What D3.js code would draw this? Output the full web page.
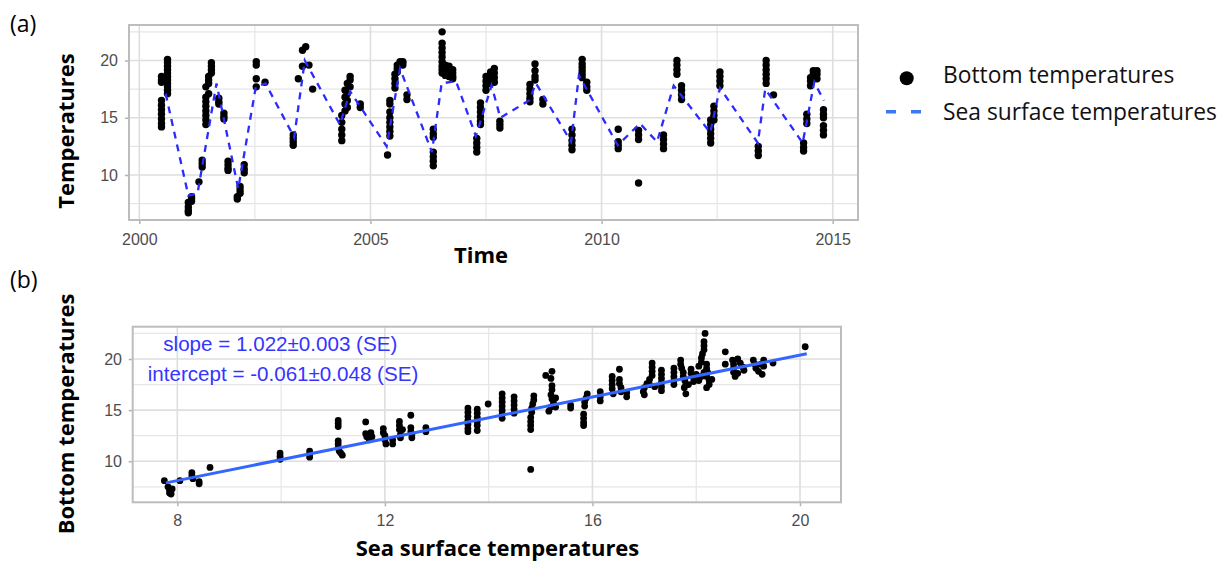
<!DOCTYPE html>
<html><head><meta charset="utf-8">
<script src="https://cdn.jsdelivr.net/npm/d3@7"></script>
<style>
body{margin:0;background:#fff;}
svg{display:block;}
</style></head>
<body>
<svg id="chart" width="1229" height="568"></svg>
<script>
// ---------- DATA ----------
// Panel (a): sea surface temperature line (decimal year, °C)
const sstYear = [2000.57,2001.06,2001.26,2001.67,2002.14,2002.52,2002.73,2003.35,2003.58,2004.34,2004.56,2005.35,2005.64,2006.33,2006.54,2006.85,2007.28,2007.62,2007.81,2008.43,2008.58,2009.34,2009.51,2010.35,2010.83,2011.20,2011.56,2012.35,2012.56,2013.38,2013.54,2014.35,2014.60,2014.81];
const sstTemp = [17.1,8.2,8.4,18.0,8.8,17.7,18.0,13.3,20.0,14.4,17.3,12.5,19.3,12.0,18.0,18.2,13.4,17.8,15.0,16.5,18.0,12.9,18.7,12.6,14.5,12.9,17.8,13.7,17.6,12.8,17.5,12.8,18.1,16.5];

// Panel (a): bottom temperature sampling times and the values measured at each time
const bottomTime = [2000.48,2000.57,2000.61,2001.06,2001.13,2001.29,2001.36,2001.44,2001.50,2001.56,2001.72,2001.83,2001.92,2002.12,2002.18,2002.27,2002.53,2002.72,2003.33,2003.44,2003.53,2003.60,2003.67,2003.75,2004.38,2004.45,2004.50,2004.56,2004.78,2005.37,2005.42,2005.53,2005.58,2005.64,2005.70,2005.79,2006.36,2006.55,2006.62,2006.70,2006.78,2007.30,2007.38,2007.50,2007.60,2007.68,2007.80,2008.45,2008.56,2008.73,2009.36,2009.58,2009.68,2010.36,2010.80,2011.34,2011.63,2011.73,2012.36,2012.43,2012.56,2013.39,2013.56,2013.72,2014.37,2014.44,2014.52,2014.58,2014.66,2014.80];
const bottomValues = [
 [18.6,18.3,18.1,16.5,16.1,15.7,15.3,14.9,14.5,14.2],
 [18.5,18.2],
 [20.1,19.8,19.5,19.2,18.9,18.6,18.3,18.0,17.7,17.4,17.1],
 [7.6,7.2,6.9,6.7],
 [8.1,7.9,7.7],
 [9.4],
 [11.3,11.0,10.7],
 [17.7,16.8,16.4,16.0,15.6,15.2,14.8,14.4],
 [18.6,18.3,18.0,17.1],
 [19.8,19.5,19.2,18.9],
 [16.7,16.4,16.2],
 [15.4,15.1,14.9],
 [11.2,10.9,10.6,10.4],
 [8.1,7.9],
 [9.0,8.7,8.4],
 [10.9,10.5,10.2],
 [19.9,19.6,18.4,17.7],
 [18.1],
 [13.5,13.2,12.9,12.6],
 [18.4],
 [19.5,20.9],
 [21.2],
 [19.6],
 [17.5],
 [15.2,14.6,14.0,13.5,13.0],
 [17.4,16.8,16.2,15.6],
 [18.0,17.1,16.5,15.9],
 [18.6,18.3,17.7],
 [16.2,15.9],
 [11.75],
 [16.5,16.2,15.5,15.0,14.6,14.2,13.8,13.4],
 [18.8,18.4,18.0,17.6],
 [19.6,19.3,19.0],
 [19.9,19.7],
 [19.8,19.6,19.9],
 [17.0,16.6],
 [14.0,13.6,13.3,12.0,11.6,11.2,10.8],
 [22.5,21.5,21.1,20.7,20.3,19.9,19.5,19.2,18.9],
 [19.6,19.3,19.0,18.7],
 [19.5,19.2,18.9,18.6],
 [19.2,18.9,18.6,18.4],
 [13.2,12.8,12.4,12.0],
 [16.3,15.9,15.5,15.1,14.7,14.4],
 [18.6,18.2,17.8,17.4],
 [19.0,18.8,18.6,18.4,18.2,18.0],
 [19.3,18.9,18.5,18.1],
 [14.7,14.4,14.1],
 [17.9,17.5,17.1,16.7,16.4],
 [19.7,19.1,18.6,18.3],
 [16.6,16.2],
 [14.0,13.5,13.0,12.6,12.2],
 [20.1,19.7,19.4,19.1,18.8,18.5],
 [18.1,17.7,17.4],
 [14.0,12.9,12.6,12.3],
 [13.9,13.5,13.1,9.3],
 [13.5,13.1,12.7,12.3],
 [20.0,19.6,19.2,18.8],
 [17.8,17.4,17.0,16.6],
 [14.8,14.4,14.0,13.6,13.2,12.8],
 [16.0,15.6,15.2,14.8],
 [19.0,18.6,18.2,17.8],
 [12.5,12.1,11.7],
 [20.0,19.6,19.2,18.8,18.4,18.0],
 [17.0],
 [12.8,12.4,12.1],
 [15.3,14.9,14.5],
 [18.5,18.2,17.8],
 [19.1,18.8,18.5],
 [19.1,18.8,18.4],
 [15.7,15.3,15.0,14.3,13.9,13.5]
];

// Panel (b): sea surface temperature vs bottom temperature
const scatterSST = [7.75,7.82,7.85,7.85,7.9,7.88,8.05,8.28,8.28,8.3,8.42,8.42,8.63,
 9.98,9.98,9.98,10.55,10.55,10.55,
 11.1,11.1,11.1,11.1,11.1,11.1,11.12,11.15,11.18,
 11.63,11.63,11.65,11.7,11.73,11.75,
 11.97,11.97,12.0,12.0,12.02,12.15,12.15,
 12.28,12.28,12.28,12.3,12.3,12.34,
 12.5,12.5,12.5,12.52,12.52,12.79,12.79,
 13.6,13.6,13.6,13.6,13.6,13.6,13.6,
 13.78,13.78,13.78,13.78,13.78,13.78,13.99,
 14.26,14.26,14.26,14.26,14.26,14.26,14.26,
 14.49,14.49,14.49,14.49,14.49,
 14.87,14.87,14.85,14.83,14.83,14.81,14.81,14.81,14.81,14.81,
 15.1,15.22,15.2,15.22,15.22,15.2,15.22,15.25,15.2,15.16,15.29,15.29,
 15.58,15.58,
 15.9,15.88,15.85,15.85,15.83,15.83,15.83,15.83,
 16.15,16.15,16.15,
 16.38,16.38,16.38,16.38,16.4,
 16.52,16.52,16.52,16.55,16.55,16.66,16.66,
 17.15,17.15,17.15,17.15,17.1,17.05,17.0,16.98,17.0,17.1,17.2,
 17.33,17.33,17.33,17.33,17.33,17.33,
 17.57,17.57,17.57,17.57,17.57,
 17.7,17.7,17.72,17.75,17.75,17.78,17.8,17.77,17.8,
 17.9,17.9,17.95,17.95,17.85,
 18.17,18.15,18.15,18.15,18.12,18.1,18.1,18.05,18.2,18.2,18.22,18.15,18.1,18.2,18.25,18.25,18.05,18.0,18.2,18.3,
 18.56,18.56,
 18.7,18.72,18.72,18.72,18.75,18.8,18.85,18.9,18.92,18.8,
 19.1,19.13,19.15,19.2,19.25,19.3,19.3,19.27,
 19.48,20.1];
const scatterBottom = [8.1,7.5,7.2,6.9,7.3,6.8,8.1,8.9,8.6,8.3,8.0,7.8,9.4,
 10.8,10.5,10.2,11.0,10.7,10.4,
 14.0,13.7,13.4,12.0,11.7,11.3,11.0,10.8,10.6,
 13.85,12.7,12.4,12.1,12.8,12.4,
 13.2,12.8,12.5,12.1,11.7,12.1,11.7,
 13.9,13.5,13.1,12.6,12.3,13.1,
 14.5,13.3,12.9,12.6,12.3,13.3,12.9,
 15.2,14.8,14.4,14.0,13.6,13.2,12.9,
 15.1,14.7,14.3,13.9,13.5,13.0,15.6,
 16.6,16.2,15.8,15.4,15.0,14.6,14.2,
 16.3,15.9,15.5,15.1,14.7,
 16.4,16.0,15.6,15.2,14.8,14.3,13.9,13.5,13.1,9.2,
 18.4,18.8,18.1,17.4,17.0,16.5,16.1,15.7,15.3,14.9,15.3,16.2,
 15.5,15.2,
 16.6,16.2,15.8,15.4,14.6,14.2,13.8,13.5,
 16.8,16.3,15.9,
 18.3,17.9,17.5,17.1,16.6,
 19.0,18.0,17.6,17.2,16.8,16.7,16.3,
 19.6,19.2,18.8,18.4,18.0,17.6,17.2,16.8,16.5,17.5,17.3,
 18.9,18.5,18.1,17.7,17.3,16.9,
 19.1,18.7,18.3,17.9,17.5,
 19.9,19.5,19.1,18.7,18.3,17.9,17.5,17.2,16.6,
 19.0,18.6,18.2,17.8,17.5,
 22.5,21.7,21.3,20.9,20.5,20.1,19.7,19.3,19.5,19.1,18.7,18.7,18.3,18.3,17.9,17.5,17.9,18.5,17.2,18.0,
 20.7,19.5,
 19.9,19.5,19.1,18.7,18.3,20.0,19.6,19.2,18.9,18.6,
 19.9,19.5,19.1,18.8,19.5,19.9,19.3,18.5,
 19.6,21.2];

// Regression (from the annotation)
const regSlope = 1.022, regIntercept = -0.061;
const regRange = [7.78, 20.13];

// Tick labels
const aXTicks = [2000, 2005, 2010, 2015];
const aXMinor = [2002.5, 2007.5, 2012.5];
const aYTicks = [10, 15, 20];
const aYMinor = [7.5, 12.5, 17.5, 22.5];
const bXTicks = [8, 12, 16, 20];
const bXMinor = [10, 14, 18];
const bYTicks = [10, 15, 20];
const bYMinor = [7.5, 12.5, 17.5, 22.5];

// ---------- DRAW ----------
const svg = d3.select("#chart");
const tickFont = "'Liberation Sans', Arial, sans-serif";
const titleFont = "'Open Sans', sans-serif";

function panel(opt) {
  const x = d3.scaleLinear().domain(opt.xDomain).range([opt.left, opt.right]);
  const y = d3.scaleLinear().domain(opt.yDomain).range([opt.bottom, opt.top]);
  const g = svg.append("g");
  g.selectAll(".vmin").data(opt.xMinor).join("line")
    .attr("x1", d => x(d)).attr("x2", d => x(d)).attr("y1", opt.top).attr("y2", opt.bottom)
    .attr("stroke", "#e6e6e6").attr("stroke-width", 1.2);
  g.selectAll(".hmin").data(opt.yMinor).join("line")
    .attr("y1", d => y(d)).attr("y2", d => y(d)).attr("x1", opt.left).attr("x2", opt.right)
    .attr("stroke", "#e6e6e6").attr("stroke-width", 1.2);
  g.selectAll(".vmaj").data(opt.xTicks).join("line")
    .attr("x1", d => x(d)).attr("x2", d => x(d)).attr("y1", opt.top).attr("y2", opt.bottom)
    .attr("stroke", "#dedede").attr("stroke-width", 1.6);
  g.selectAll(".hmaj").data(opt.yTicks).join("line")
    .attr("y1", d => y(d)).attr("y2", d => y(d)).attr("x1", opt.left).attr("x2", opt.right)
    .attr("stroke", "#dedede").attr("stroke-width", 1.6);
  const xa = svg.append("g").attr("transform", `translate(0,${opt.bottom})`)
    .call(d3.axisBottom(x).tickValues(opt.xTicks).tickSize(4).tickPadding(opt.xPad).tickFormat(d3.format("d")));
  const ya = svg.append("g").attr("transform", `translate(${opt.left},0)`)
    .call(d3.axisLeft(y).tickValues(opt.yTicks).tickSize(4).tickPadding(opt.yPad).tickFormat(d3.format("d")));
  [xa, ya].forEach(a => {
    a.select(".domain").remove();
    a.selectAll("line").attr("stroke", "#b3b3b3").attr("stroke-width", 1.5);
    a.selectAll("text").attr("fill", "#4d4d4d").style("font-family", tickFont).style("font-size", "16px");
  });
  return {x, y, g};
}

function border(opt) {
  svg.append("rect").attr("x", opt.left).attr("y", opt.top)
    .attr("width", opt.right - opt.left).attr("height", opt.bottom - opt.top)
    .attr("fill", "none").attr("stroke", "#bdbdbd").attr("stroke-width", 2);
}

// Panel (a)
const optA = {left: 129, right: 858, top: 25, bottom: 220,
  xDomain: [1999.777, 2015.547], yDomain: [6.07, 23.1],
  xTicks: aXTicks, xMinor: aXMinor, yTicks: aYTicks, yMinor: aYMinor, xPad: 9.5, yPad: 7};
const A = panel(optA);
const ptsA = [];
bottomTime.forEach((t, i) => bottomValues[i].forEach(v => ptsA.push([t, v])));
A.g.selectAll(".pa").data(ptsA).join("circle")
  .attr("cx", d => A.x(d[0])).attr("cy", d => A.y(d[1])).attr("r", 3.7).attr("fill", "#000");
A.g.append("path").datum(sstYear.map((t, i) => [t, sstTemp[i]]))
  .attr("d", d3.line().x(d => A.x(d[0])).y(d => A.y(d[1])))
  .attr("fill", "none").attr("stroke", "#2b2bff").attr("stroke-width", 2.3)
  .attr("stroke-dasharray", "7,6");
border(optA);

// Panel (b)
const optB = {left: 132.7, right: 841, top: 326.7, bottom: 502.3,
  xDomain: [7.14, 20.79], yDomain: [5.99, 23.16],
  xTicks: bXTicks, xMinor: bXMinor, yTicks: bYTicks, yMinor: bYMinor, xPad: 8.7, yPad: 6.7};
const B = panel(optB);
B.g.selectAll(".pb").data(scatterSST.map((s, i) => [s, scatterBottom[i]])).join("circle")
  .attr("cx", d => B.x(d[0])).attr("cy", d => B.y(d[1])).attr("r", 3.4).attr("fill", "#000");
B.g.append("line")
  .attr("x1", B.x(regRange[0])).attr("y1", B.y(regSlope * regRange[0] + regIntercept))
  .attr("x2", B.x(regRange[1])).attr("y2", B.y(regSlope * regRange[1] + regIntercept))
  .attr("stroke", "#3366ff").attr("stroke-width", 3);
border(optB);

// annotation
svg.append("text").attr("x", 163.3).attr("y", 351).text("slope = 1.022\u00b10.003 (SE)")
  .attr("fill", "#3535ff").style("font-family", tickFont).style("font-size", "20.6px");
svg.append("text").attr("x", 147.7).attr("y", 381).text("intercept = -0.061\u00b10.048 (SE)")
  .attr("fill", "#3535ff").style("font-family", tickFont).style("font-size", "20.6px");

// axis titles
function title(txt, x, y, rot) {
  svg.append("text").attr("transform", `translate(${x},${y}) rotate(${rot})`)
    .attr("text-anchor", "middle").text(txt)
    .style("font-family", titleFont).style("font-weight", "bold").style("font-size", "22px").attr("fill", "#000");
}
title("Time", 481, 263, 0);
title("Temperatures", 74, 131, -90);
title("Sea surface temperatures", 497.5, 556, 0);
title("Bottom temperatures", 74, 414, -90);

// panel letters
svg.append("text").attr("x", 10).attr("y", 32).text("(a)")
  .style("font-family", titleFont).style("font-size", "23px").attr("fill", "#000");
svg.append("text").attr("x", 10).attr("y", 288).text("(b)")
  .style("font-family", titleFont).style("font-size", "23px").attr("fill", "#000");

// legend
const lg = svg.append("g");
lg.append("circle").attr("cx", 906.7).attr("cy", 78.3).attr("r", 7).attr("fill", "#000");
lg.append("line").attr("x1", 886).attr("x2", 929).attr("y1", 111.7).attr("y2", 111.7)
  .attr("stroke", "#3c78f0").attr("stroke-width", 3.5).attr("stroke-dasharray", "10,15");
lg.append("text").attr("x", 943).attr("y", 82.5).text("Bottom temperatures")
  .style("font-family", titleFont).style("font-size", "22.8px").attr("fill", "#111");
lg.append("text").attr("x", 943).attr("y", 119.5).text("Sea surface temperatures")
  .style("font-family", titleFont).style("font-size", "22.8px").attr("fill", "#111");
</script>
</body></html>
